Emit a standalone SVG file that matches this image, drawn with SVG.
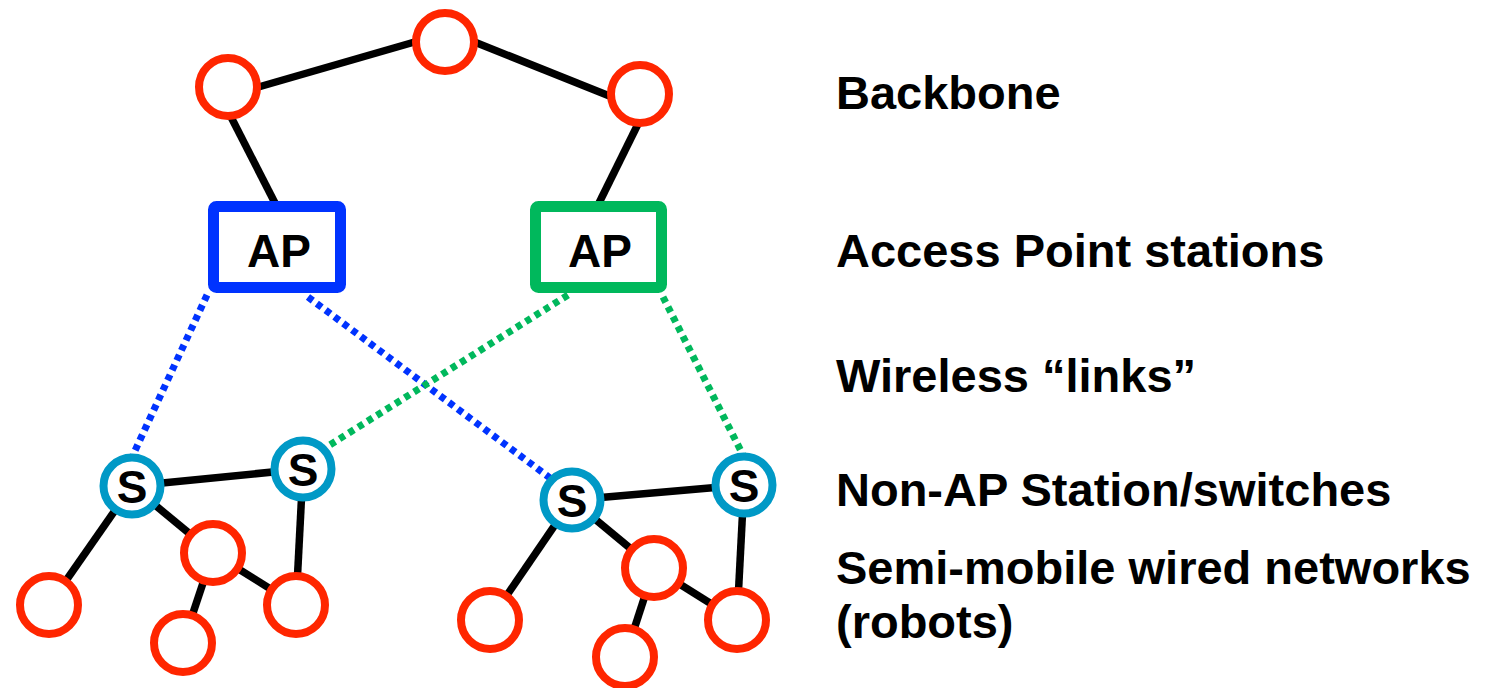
<svg xmlns="http://www.w3.org/2000/svg" width="1493" height="688" viewBox="0 0 1493 688">
<style>
.wire{stroke:#000;stroke-width:7.5;fill:none}
.dot{stroke-width:7;stroke-dasharray:6 5;fill:none}
.red{fill:#fff;stroke:#FF2600;stroke-width:8}
.sw{fill:#fff;stroke:#0099C6;stroke-width:8}
.lbl{font-family:"Liberation Sans",Arial,sans-serif;font-weight:bold;font-size:47px;fill:#000}
.ap{font-family:"Liberation Sans",Arial,sans-serif;font-weight:bold;font-size:46px;fill:#000;text-anchor:middle}
.s{font-family:"Liberation Sans",Arial,sans-serif;font-weight:bold;font-size:46px;fill:#000;text-anchor:middle}
</style>
<rect width="1493" height="688" fill="#fff"/>
<g id="connectors">
<line class="wire" x1="255" y1="88" x2="418" y2="41"/>
<line class="wire" x1="472" y1="41" x2="612" y2="97"/>
<line class="wire" x1="230" y1="115" x2="276" y2="205"/>
<line class="wire" x1="639" y1="122" x2="598" y2="205"/>
<line class="dot" stroke="#0033FF" x1="207" y1="295" x2="133" y2="455"/>
<line class="dot" stroke="#0033FF" x1="308" y1="297" x2="550" y2="478"/>
<line class="dot" stroke="#00B85C" x1="568" y1="295" x2="325" y2="448"/>
<line class="dot" stroke="#00B85C" x1="663" y1="297" x2="743" y2="455"/>
<line class="wire" x1="132" y1="486" x2="303" y2="469"/>
<line class="wire" x1="132" y1="486" x2="213" y2="553"/>
<line class="wire" x1="132" y1="486" x2="49" y2="605"/>
<line class="wire" x1="303" y1="469" x2="296" y2="605"/>
<line class="wire" x1="213" y1="553" x2="183" y2="643"/>
<line class="wire" x1="213" y1="553" x2="296" y2="605"/>
<line class="wire" x1="572" y1="500" x2="744" y2="485"/>
<line class="wire" x1="572" y1="500" x2="654" y2="568"/>
<line class="wire" x1="572" y1="500" x2="490" y2="620"/>
<line class="wire" x1="744" y1="485" x2="737" y2="620"/>
<line class="wire" x1="654" y1="568" x2="625" y2="657"/>
<line class="wire" x1="654" y1="568" x2="737" y2="620"/>
</g>
<g id="bb-left"><circle class="red" cx="228" cy="87" r="29"/></g>
<g id="bb-top"><circle class="red" cx="445" cy="42" r="29"/></g>
<g id="bb-right"><circle class="red" cx="640" cy="94" r="29"/></g>
<g id="ap-blue"><rect x="213.5" y="206.5" width="127" height="81" rx="3" fill="#fff" stroke="#0033FF" stroke-width="11"/><text class="ap" x="279" y="267">AP</text></g>
<g id="ap-green"><rect x="535.5" y="206.5" width="126" height="81" rx="3" fill="#fff" stroke="#00B85C" stroke-width="11"/><text class="ap" x="600" y="267">AP</text></g>
<g id="s1"><circle class="sw" cx="132" cy="486" r="28.5"/><text class="s" x="132" y="503">S</text></g>
<g id="s2"><circle class="sw" cx="303" cy="469" r="28.5"/><text class="s" x="303" y="486">S</text></g>
<g id="s3"><circle class="sw" cx="572" cy="500" r="28.5"/><text class="s" x="572" y="517">S</text></g>
<g id="s4"><circle class="sw" cx="744" cy="485" r="28.5"/><text class="s" x="744" y="502">S</text></g>
<g id="r1"><circle class="red" cx="49" cy="605" r="29"/></g>
<g id="r2"><circle class="red" cx="213" cy="553" r="29"/></g>
<g id="r3"><circle class="red" cx="183" cy="643" r="29"/></g>
<g id="r4"><circle class="red" cx="296" cy="605" r="29"/></g>
<g id="r5"><circle class="red" cx="490" cy="620" r="29"/></g>
<g id="r6"><circle class="red" cx="654" cy="568" r="29"/></g>
<g id="r7"><circle class="red" cx="625" cy="657" r="29"/></g>
<g id="r8"><circle class="red" cx="737" cy="620" r="29"/></g>
<g id="labels">
<text class="lbl" x="836" y="109">Backbone</text>
<text class="lbl" x="836" y="267">Access Point stations</text>
<text class="lbl" x="836" y="392">Wireless “links”</text>
<text class="lbl" x="836" y="506">Non-AP Station/switches</text>
<text class="lbl" x="836" y="584">Semi-mobile wired networks</text>
<text class="lbl" x="836" y="638">(robots)</text>
</g>
</svg>
